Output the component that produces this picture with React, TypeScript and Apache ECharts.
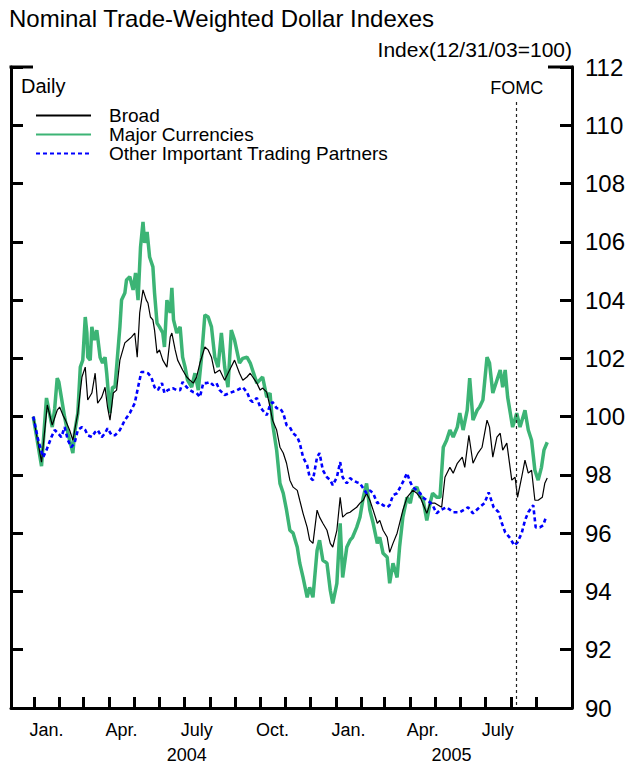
import React, { useEffect, useRef } from 'react';
import * as echarts from 'echarts';

// x values are days counted from 1 January 2004 (day 0)
const majorDays = [-1, 9, 15, 22, 25, 28, 30, 33, 37, 41, 47, 49, 53, 56, 59, 62, 64, 65, 68, 70, 73, 76, 80, 83, 86, 88, 92, 95, 98, 100, 104, 106, 110, 112, 116, 120, 123, 126, 129, 132, 134, 137, 140, 144, 146, 149, 152, 156, 158, 161, 165, 167, 169, 173, 177, 180, 183, 186, 191, 195, 199, 203, 207, 211, 215, 219, 223, 227, 231, 235, 239, 243, 249, 253, 258, 262, 270, 277, 282, 286, 289, 294, 298, 302, 306, 310, 314, 319, 322, 326, 331, 334, 338, 343, 346, 350, 355, 359, 362, 367, 371, 374, 379, 383, 386, 391, 395, 399, 403, 407, 411, 416, 419, 423, 428, 431, 435, 440, 443, 447, 452, 456, 459, 464, 468, 471, 476, 480, 483, 488, 492, 496, 500, 504, 508, 513, 516, 520, 525, 528, 532, 537, 540, 544, 549, 552, 556, 561, 565, 568, 571, 574, 580, 585, 589, 595, 599, 603, 607, 611, 615, 618, 622];
const majorValues = [100.0, 98.3, 100.64, 99.64, 100.29, 101.32, 101.19, 100.67, 99.98, 99.43, 98.75, 99.43, 100.12, 101.7, 101.94, 103.42, 102.87, 102.04, 101.94, 103.08, 102.63, 102.97, 102.04, 101.84, 102.04, 101.49, 100.12, 101.01, 101.01, 101.7, 103.08, 104.0, 104.24, 104.69, 104.8, 104.35, 104.93, 104.0, 105.82, 106.68, 105.96, 106.34, 105.48, 105.14, 104.24, 103.21, 103.08, 102.87, 102.39, 104.0, 103.56, 104.42, 103.32, 102.87, 103.08, 102.04, 101.7, 101.25, 101.01, 101.49, 100.91, 102.04, 103.49, 103.42, 103.08, 102.04, 101.7, 102.87, 101.7, 101.01, 102.97, 102.63, 101.84, 102.0, 102.04, 101.84, 101.15, 101.36, 100.67, 100.81, 99.78, 98.85, 97.71, 97.37, 96.79, 96.1, 96.0, 95.52, 94.97, 94.48, 93.8, 94.14, 93.8, 95.41, 95.76, 95.07, 94.97, 94.04, 93.59, 94.28, 96.34, 94.48, 95.52, 95.76, 95.86, 96.2, 96.55, 97.23, 97.71, 96.79, 96.34, 95.65, 95.86, 95.31, 95.17, 94.28, 94.97, 94.48, 95.52, 96.55, 97.23, 97.03, 97.47, 97.58, 97.23, 97.23, 96.44, 97.03, 97.37, 97.23, 97.23, 98.95, 99.19, 99.54, 99.3, 99.64, 100.12, 99.54, 100.22, 101.32, 99.88, 100.22, 100.33, 100.57, 102.04, 101.84, 100.81, 101.25, 101.6, 101.01, 101.6, 100.67, 99.64, 100.12, 99.64, 100.22, 99.54, 99.19, 98.16, 97.82, 98.26, 98.85, 99.12];

const broadDays = [-1, 9, 16, 22, 28, 31, 35, 38, 43, 47, 53, 58, 62, 65, 70, 74, 77, 82, 86, 89, 92, 96, 100, 104, 110, 114, 118, 122, 125, 128, 132, 136, 138, 141, 144, 146, 149, 152, 156, 161, 165, 167, 171, 174, 180, 185, 189, 193, 197, 201, 207, 211, 215, 219, 225, 231, 237, 243, 249, 253, 258, 262, 265, 270, 274, 277, 282, 286, 289, 294, 298, 302, 306, 310, 314, 319, 322, 326, 331, 334, 338, 343, 346, 350, 355, 359, 362, 367, 371, 374, 379, 383, 386, 391, 395, 399, 403, 407, 411, 416, 419, 423, 428, 431, 435, 440, 443, 447, 452, 456, 459, 464, 468, 471, 476, 480, 486, 494, 498, 504, 508, 513, 519, 522, 527, 532, 538, 543, 549, 552, 556, 561, 565, 568, 573, 579, 583, 586, 591, 595, 599, 603, 607, 611, 616, 619, 622];
const broadValues = [100.0, 98.44, 100.4, 99.71, 100.22, 100.33, 100.05, 99.88, 99.54, 99.19, 100.12, 101.36, 101.7, 100.57, 100.81, 101.49, 100.46, 100.67, 101.01, 100.33, 99.88, 100.81, 100.91, 101.94, 102.53, 102.63, 102.73, 102.87, 102.04, 103.56, 104.35, 104.0, 103.9, 103.42, 103.32, 102.97, 102.18, 102.29, 101.94, 101.7, 102.73, 102.87, 102.29, 101.94, 101.6, 101.36, 101.25, 101.15, 101.36, 101.84, 102.39, 102.29, 102.04, 101.49, 101.6, 101.25, 101.6, 101.94, 101.49, 101.25, 101.36, 101.49, 101.36, 101.15, 100.91, 100.98, 100.84, 100.33, 99.88, 99.54, 98.95, 98.75, 98.4, 97.82, 97.58, 97.47, 97.13, 96.68, 96.2, 95.76, 95.65, 96.79, 96.55, 96.34, 96.1, 95.65, 95.52, 96.1, 97.23, 96.55, 96.68, 96.72, 96.79, 96.89, 97.03, 97.13, 97.37, 97.13, 96.79, 96.34, 96.44, 96.1, 95.86, 95.34, 95.65, 96.0, 96.34, 96.79, 97.23, 97.37, 97.47, 97.37, 97.23, 97.03, 96.68, 97.03, 97.03, 96.89, 97.92, 98.26, 98.06, 98.4, 98.61, 98.26, 99.36, 98.4, 98.75, 98.95, 99.88, 99.64, 98.61, 99.3, 99.43, 98.85, 99.09, 97.82, 97.92, 97.23, 97.92, 98.51, 98.06, 98.16, 97.13, 97.13, 97.23, 97.71, 97.89];

const otherDays = [-1, 5, 11, 15, 21, 25, 29, 33, 37, 41, 45, 49, 53, 58, 62, 65, 70, 74, 77, 82, 86, 89, 94, 98, 104, 110, 116, 122, 126, 130, 134, 138, 142, 146, 150, 155, 158, 162, 168, 173, 177, 180, 185, 189, 193, 197, 201, 205, 209, 213, 217, 221, 225, 231, 237, 246, 253, 258, 262, 265, 270, 274, 277, 282, 286, 289, 294, 298, 302, 306, 310, 314, 319, 322, 326, 331, 334, 338, 343, 346, 350, 355, 359, 362, 367, 371, 374, 379, 383, 386, 391, 395, 399, 403, 407, 411, 416, 419, 423, 428, 431, 435, 440, 443, 447, 452, 456, 459, 464, 468, 471, 476, 480, 483, 488, 492, 500, 508, 516, 526, 532, 540, 546, 551, 557, 563, 567, 571, 577, 582, 586, 591, 595, 599, 605, 608, 613, 617, 620];
const otherValues = [100.0, 99.19, 98.61, 98.85, 99.3, 99.54, 99.43, 99.3, 99.64, 99.19, 98.95, 99.09, 99.54, 99.64, 99.54, 99.36, 99.3, 99.47, 99.54, 99.3, 99.43, 99.6, 99.36, 99.36, 99.54, 99.88, 100.12, 100.46, 101.01, 101.53, 101.53, 101.49, 101.36, 101.01, 100.91, 101.15, 100.81, 100.91, 100.98, 100.91, 100.91, 101.19, 101.01, 100.91, 100.84, 100.81, 100.67, 101.15, 101.15, 101.19, 101.08, 101.15, 100.91, 100.74, 100.81, 100.91, 101.01, 100.84, 100.57, 100.5, 100.64, 100.33, 100.22, 100.05, 100.4, 100.5, 100.29, 100.29, 100.12, 99.71, 99.64, 99.43, 99.3, 99.09, 98.61, 98.33, 97.92, 97.82, 98.61, 98.75, 98.16, 97.92, 97.82, 97.65, 97.92, 98.44, 97.92, 97.71, 97.89, 97.82, 97.75, 97.71, 97.54, 97.37, 97.47, 97.37, 97.03, 97.06, 96.96, 96.89, 96.96, 97.3, 97.37, 97.54, 97.75, 98.06, 97.75, 97.58, 97.47, 97.37, 97.23, 97.13, 97.06, 96.96, 96.68, 96.79, 96.89, 96.72, 96.72, 96.89, 96.68, 96.89, 97.03, 97.4, 96.89, 96.72, 96.34, 96.03, 95.83, 95.58, 95.69, 96.0, 96.44, 96.72, 96.96, 96.2, 96.2, 96.27, 96.51];

// axis ticks and labels
const monthTickDays = [0, 31, 60, 91, 121, 152, 182, 213, 244, 274, 305, 335, 366, 397, 425, 456, 486, 517, 547, 578, 609];
const monthLabelDays = [15, 106, 197, 289, 381, 471, 562];
const monthLabels = ['Jan.', 'Apr.', 'July', 'Oct.', 'Jan.', 'Apr.', 'July'];
const yearLabelDays = [185, 506];
const yearLabels = ['2004', '2005'];
const fomcDay = 585;

const FONT = "'Liberation Sans', Arial, Helvetica, sans-serif";
const GREEN = '#3cb475';
const BLUE = '#0000ff';

const pairs = (d: number[], v: number[]) => d.map((x, i) => [x, v[i]]);

export default function App() {
  const ref = useRef<HTMLDivElement>(null);
  useEffect(() => {
    if (!ref.current) return;
    const chart = echarts.init(ref.current, undefined, { renderer: 'svg' });
    const yCommon = {
      type: 'value',
      min: 90,
      max: 112,
      interval: 2,
      axisLine: { show: true, onZero: false, lineStyle: { color: '#000', width: 3 } },
      axisTick: { show: true, inside: true, length: 12, lineStyle: { color: '#000', width: 3 } },
      splitLine: { show: false },
    };
    const option: any = {
      animation: false,
      backgroundColor: '#fff',
      textStyle: { fontFamily: FONT, color: '#000' },
      title: [
        {
          text: 'Nominal Trade-Weighted Dollar Indexes',
          left: 9,
          top: 6,
          padding: 0,
          textStyle: { fontSize: 24, fontWeight: 'normal', color: '#000', fontFamily: FONT },
        },
        {
          text: 'Index(12/31/03=100)',
          right: 57,
          top: 39,
          padding: 0,
          textStyle: { fontSize: 21, fontWeight: 'normal', color: '#000', fontFamily: FONT },
        },
      ],
      legend: {
        data: ['Broad', 'Major Currencies', 'Other Important Trading Partners'],
        orient: 'vertical',
        left: 35,
        top: 106,
        padding: 0,
        itemGap: 0,
        itemWidth: 55,
        itemHeight: 10,
        selectedMode: false,
        itemStyle: { opacity: 0 },
        textStyle: { fontSize: 19, lineHeight: 18, color: '#000', fontFamily: FONT, padding: [0, 0, 0, 13] },
      },
      grid: { left: 11, right: 57, top: 67, bottom: 59, containLabel: false },
      xAxis: [
        {
          type: 'value',
          min: -28,
          max: 652,
          position: 'bottom',
          axisLine: { show: true, onZero: false, lineStyle: { color: '#000', width: 3 } },
          axisTick: { show: true, inside: true, length: 11, lineStyle: { color: '#000', width: 3 }, customValues: monthTickDays },
          axisLabel: {
            show: true,
            customValues: monthLabelDays,
            formatter: (v: number) => {
              const i = monthLabelDays.indexOf(v);
              return i >= 0 ? monthLabels[i] : '';
            },
            fontSize: 18,
            margin: 13,
            color: '#000',
            fontFamily: FONT,
          },
          splitLine: { show: false },
        },
        {
          type: 'value',
          min: -28,
          max: 652,
          position: 'bottom',
          offset: 25,
          axisLine: { show: false, onZero: false },
          axisTick: { show: false },
          axisLabel: {
            show: true,
            customValues: yearLabelDays,
            formatter: (v: number) => {
              const i = yearLabelDays.indexOf(v);
              return i >= 0 ? yearLabels[i] : '';
            },
            fontSize: 18,
            margin: 13,
            color: '#000',
            fontFamily: FONT,
          },
          splitLine: { show: false },
        },
      ],
      yAxis: [
        {
          ...yCommon,
          position: 'right',
          axisLabel: { fontSize: 24, margin: 13, color: '#000', fontFamily: FONT },
        },
        {
          ...yCommon,
          position: 'left',
          axisLabel: { show: false },
        },
      ],
      graphic: [
        { type: 'line', shape: { x1: 9.5, y1: 67, x2: 33, y2: 67 }, style: { stroke: '#000', lineWidth: 3 } },
        { type: 'line', shape: { x1: 548, y1: 67, x2: 573.5, y2: 67 }, style: { stroke: '#000', lineWidth: 3 } },
        {
          type: 'text',
          left: 21,
          top: 76,
          style: { text: 'Daily', fontSize: 20, fill: '#000', fontFamily: FONT },
        },
      ],
      series: [
        {
          name: 'Broad',
          type: 'line',
          xAxisIndex: 0,
          yAxisIndex: 0,
          data: pairs(broadDays, broadValues),
          showSymbol: false,
          symbol: 'none',
          z: 3,
          lineStyle: { color: '#000', width: 1.2 },
          itemStyle: { color: '#000' },
          markLine: {
            silent: true,
            symbol: ['none', 'none'],
            lineStyle: { color: '#222', type: [3, 3], width: 1.2 },
            label: { show: true, position: 'start', formatter: 'FOMC', fontSize: 18, color: '#000', distance: 5, fontFamily: FONT },
            data: [[{ coord: [fomcDay, 110.8] }, { coord: [fomcDay, 90] }]],
          },
        },
        {
          name: 'Major Currencies',
          type: 'line',
          xAxisIndex: 0,
          yAxisIndex: 0,
          data: pairs(majorDays, majorValues),
          showSymbol: false,
          symbol: 'none',
          z: 2,
          lineStyle: { color: GREEN, width: 3.5 },
          itemStyle: { color: GREEN },
        },
        {
          name: 'Other Important Trading Partners',
          type: 'line',
          xAxisIndex: 0,
          yAxisIndex: 0,
          data: pairs(otherDays, otherValues),
          showSymbol: false,
          symbol: 'none',
          z: 4,
          lineStyle: { color: BLUE, width: 2.6, type: [4, 3] },
          itemStyle: { color: BLUE },
        },
      ],
    };
    chart.setOption(option);
    return () => chart.dispose();
  }, []);
  return (
    <div
      ref={ref}
      style={{ position: 'absolute', left: 0, top: 0, width: 629, height: 767, background: '#fff' }}
    />
  );
}
